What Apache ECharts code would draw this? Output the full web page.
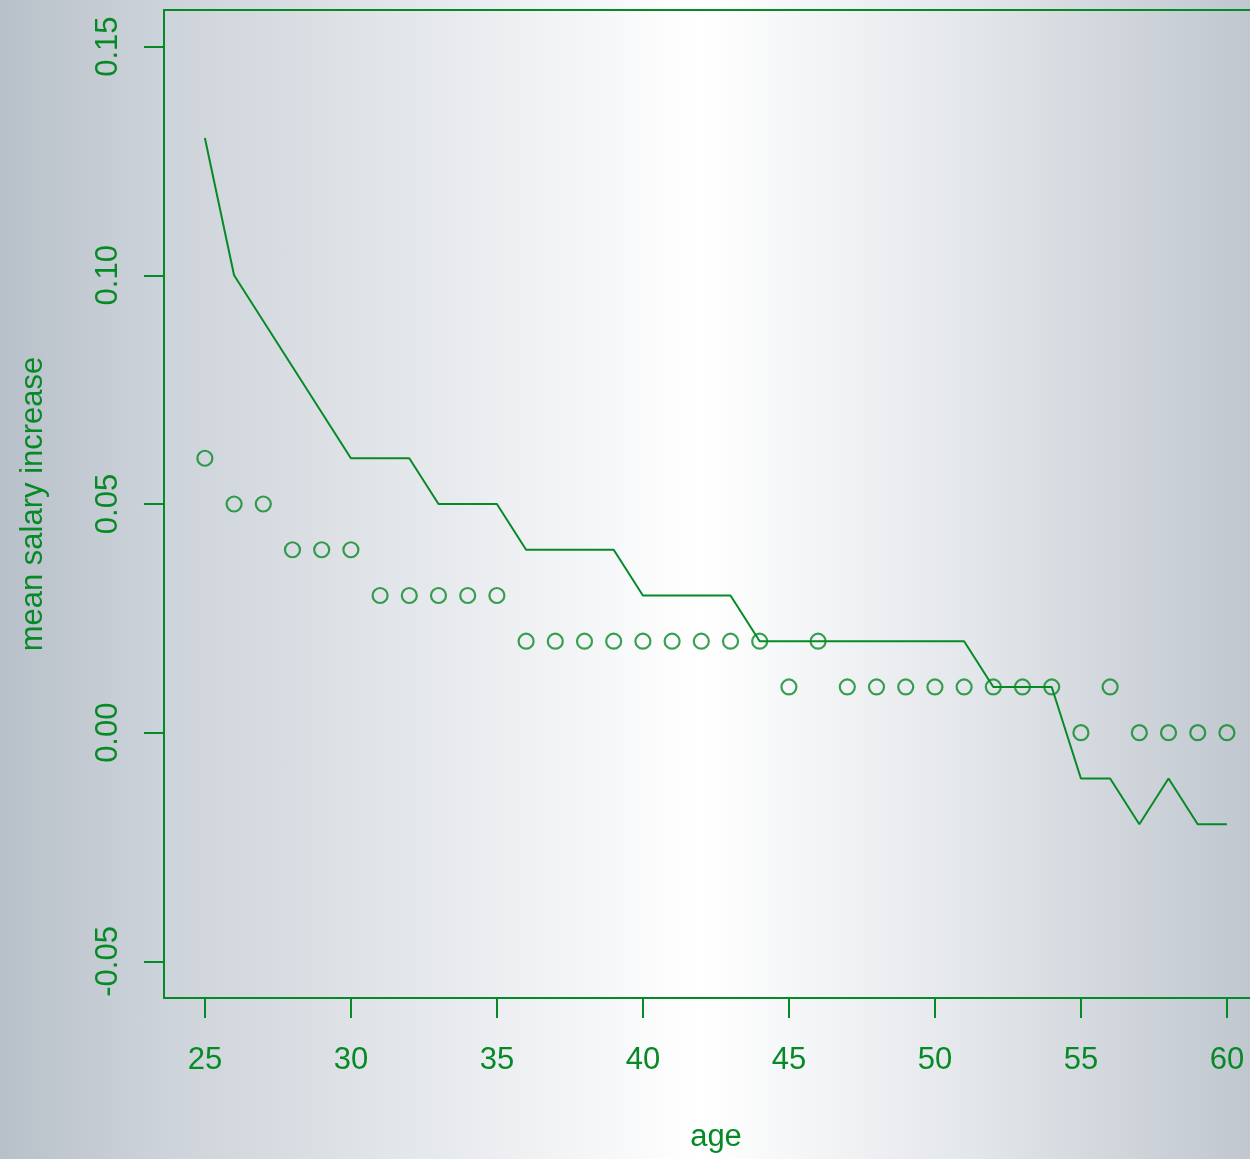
<!DOCTYPE html>
<html>
<head>
<meta charset="utf-8">
<script src="https://cdn.jsdelivr.net/npm/echarts@6/dist/echarts.min.js"></script>
<style>
  html, body { margin: 0; padding: 0; }
  #chart {
    width: 1250px; height: 1159px;
    background: linear-gradient(to right,
      #b8c0c9 0%, #cdd3da 13%, #e3e6ea 32%, #ffffff 56%,
      #e3e6ea 78%, #c0c7cf 100%);
  }
</style>
</head>
<body>
<div id="chart"></div>
<script>
// Age in years
const ages = [25, 26, 27, 28, 29, 30, 31, 32, 33, 34, 35, 36, 37, 38, 39, 40, 41, 42,
              43, 44, 45, 46, 47, 48, 49, 50, 51, 52, 53, 54, 55, 56, 57, 58, 59, 60];
// Observed mean salary increase per age (circles)
const observed = [0.06, 0.05, 0.05, 0.04, 0.04, 0.04, 0.03, 0.03, 0.03, 0.03, 0.03,
                  0.02, 0.02, 0.02, 0.02, 0.02, 0.02, 0.02, 0.02, 0.02, 0.01, 0.02,
                  0.01, 0.01, 0.01, 0.01, 0.01, 0.01, 0.01, 0.01, 0.00, 0.01,
                  0.00, 0.00, 0.00, 0.00];
// Second series drawn as a line
const lineValues = [0.13, 0.10, 0.09, 0.08, 0.07, 0.06, 0.06, 0.06, 0.05, 0.05, 0.05,
                    0.04, 0.04, 0.04, 0.04, 0.03, 0.03, 0.03, 0.03, 0.02, 0.02, 0.02,
                    0.02, 0.02, 0.02, 0.02, 0.02, 0.01, 0.01, 0.01, -0.01, -0.01,
                    -0.02, -0.01, -0.02, -0.02];
const xTicks = [25, 30, 35, 40, 45, 50, 55, 60];
const yTicks = [-0.05, 0.00, 0.05, 0.10, 0.15];

const GREEN = '#068a26';
const FONT = 'Liberation Sans';
const frameLine = { show: true, onZero: false, lineStyle: { color: GREEN, width: 2 } };

const chart = echarts.init(document.getElementById('chart'), null, { renderer: 'canvas' });
chart.setOption({
  backgroundColor: 'transparent',
  animation: false,
  grid: { left: 164, top: 10, right: 0, height: 988 },
  xAxis: [
    {
      type: 'value', min: 23.6, max: 60.79,
      name: 'age', nameLocation: 'middle', nameGap: 124,
      nameTextStyle: { color: GREEN, fontSize: 31, fontFamily: FONT, padding: [0, 0, 0, 18] },
      axisLine: frameLine,
      splitLine: { show: false },
      axisTick: { show: true, customValues: xTicks, length: 20, lineStyle: { color: GREEN, width: 2 } },
      axisLabel: { customValues: xTicks, color: GREEN, fontSize: 31, fontFamily: FONT, margin: 47 }
    },
    {
      // top edge of the plot frame
      type: 'value', position: 'top', min: 23.6, max: 60.79,
      axisLine: frameLine,
      axisTick: { show: false }, axisLabel: { show: false }, splitLine: { show: false }
    }
  ],
  yAxis: {
    type: 'value', min: -0.058, max: 0.158,
    name: 'mean salary increase', nameLocation: 'middle', nameGap: 115,
    nameTextStyle: { color: GREEN, fontSize: 31, fontFamily: FONT },
    axisLine: frameLine,
    splitLine: { show: false },
    axisTick: { show: true, customValues: yTicks, length: 20, lineStyle: { color: GREEN, width: 2 } },
    axisLabel: {
      customValues: yTicks, color: GREEN, fontSize: 31, fontFamily: FONT,
      rotate: 90, margin: 40,
      formatter: v => v.toFixed(2)
    }
  },
  series: [
    {
      type: 'line',
      data: ages.map((a, i) => [a, lineValues[i]]),
      showSymbol: false, symbol: 'none',
      lineStyle: { color: GREEN, width: 2 },
      silent: true
    },
    {
      type: 'scatter',
      data: ages.map((a, i) => [a, observed[i]]),
      symbol: 'circle', symbolSize: 15,
      itemStyle: { color: 'rgba(0,0,0,0)', borderColor: GREEN, borderWidth: 2.2 },
      silent: true
    }
  ]
});
</script>
</body>
</html>
